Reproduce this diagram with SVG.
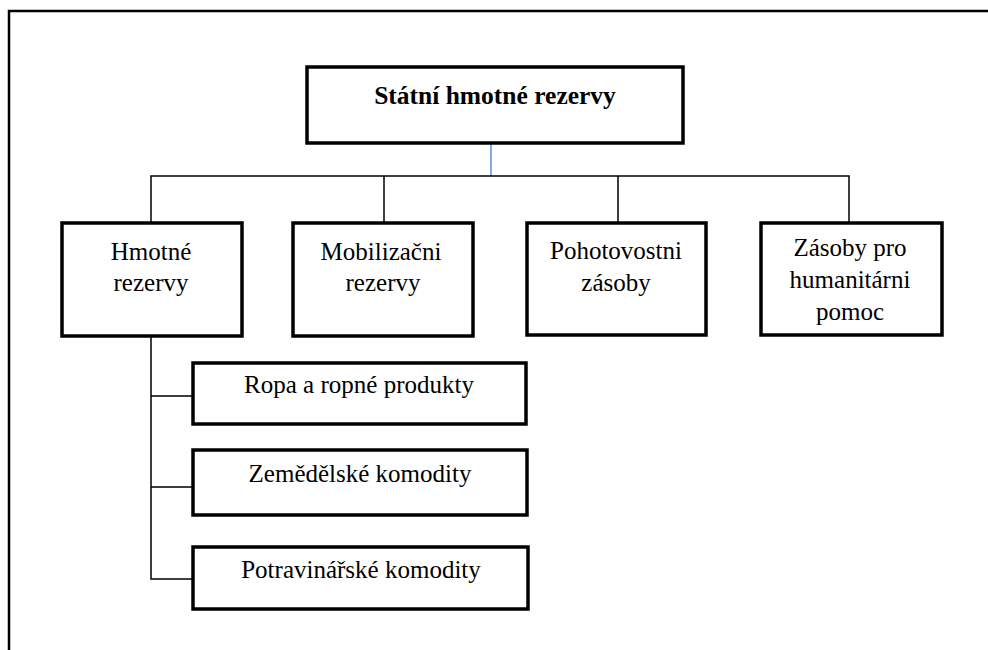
<svg xmlns="http://www.w3.org/2000/svg" width="988" height="650" viewBox="0 0 988 650">
<style>
.box{fill:#fff;stroke:#000;stroke-width:3.5}
.t{font-family:"Liberation Serif","Times New Roman",serif;font-size:25px;fill:#000;text-anchor:middle}
.b{font-weight:bold;font-size:25.5px}
.c{fill:none;stroke:#000;stroke-width:1.5}
</style>
<rect width="988" height="650" fill="#fff"/>
<path d="M9 650 V11 H988" fill="none" stroke="#000" stroke-width="2.5"/>
<g id="connectors">
<line x1="491" y1="143" x2="491" y2="176" stroke="#5b8ccc" stroke-width="1.5"/>
<path class="c" d="M151 223 V176 H849 V223 M384 176 V223 M618 176 V223"/>
<path class="c" d="M151 336 V579 H193 M151 396 H193 M151 487 H193"/>
</g>
<g id="n0">
<rect class="box" x="307" y="67" width="376" height="76"/>
<text class="t b" x="495" y="104">Státní hmotné rezervy</text>
</g>
<g id="n1">
<rect class="box" x="62" y="223" width="180" height="113"/>
<text class="t" x="151" y="260">Hmotné</text>
<text class="t" x="151" y="291">rezervy</text>
</g>
<g id="n2">
<rect class="box" x="293" y="223" width="180" height="113"/>
<text class="t" x="381" y="260">Mobilizačni</text>
<text class="t" x="383" y="291">rezervy</text>
</g>
<g id="n3">
<rect class="box" x="527" y="223" width="179" height="112"/>
<text class="t" x="616" y="259">Pohotovostni</text>
<text class="t" x="616" y="291">zásoby</text>
</g>
<g id="n4">
<rect class="box" x="761" y="223" width="181" height="112"/>
<text class="t" x="850" y="256">Zásoby pro</text>
<text class="t" x="850" y="288">humanitárni</text>
<text class="t" x="850" y="320">pomoc</text>
</g>
<g id="n5">
<rect class="box" x="193" y="363" width="333" height="61"/>
<text class="t" x="359" y="393">Ropa a ropné produkty</text>
</g>
<g id="n6">
<rect class="box" x="193" y="450" width="334" height="65"/>
<text class="t" x="360" y="482">Zemědělské  komodity</text>
</g>
<g id="n7">
<rect class="box" x="193" y="547" width="335" height="62"/>
<text class="t" x="361" y="578">Potravinářské komodity</text>
</g>
</svg>
